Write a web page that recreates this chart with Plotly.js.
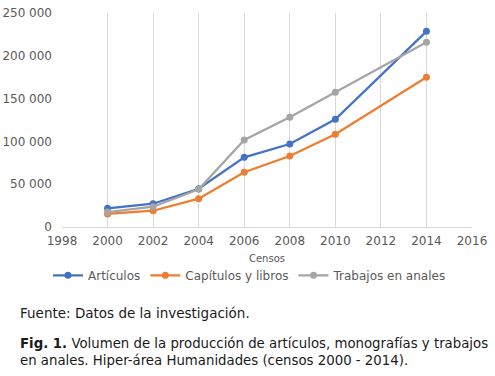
<!DOCTYPE html>
<html>
<head>
<meta charset="utf-8">
<script src="https://cdn.plot.ly/plotly-3.0.1.min.js"></script>
<style>
html,body{margin:0;padding:0;background:#fff;}
#chart{width:495px;height:376px;}
</style>
</head>
<body>
<div id="chart"></div>
<script>
const years = [2000, 2002, 2004, 2006, 2008, 2010, 2014];
const articulos = [21800, 27200, 44700, 81400, 97000, 125800, 228600];
const capitulos = [15200, 19000, 33100, 63900, 82900, 108300, 174900];
const trabajos = [17500, 23700, 44000, 101600, 128100, 157300, 215700];
const seriesNames = ['Artículos', 'Capítulos y libros', 'Trabajos en anales'];
const xTicks = [1998, 2000, 2002, 2004, 2006, 2008, 2010, 2012, 2014, 2016];
const yTicks = [0, 50000, 100000, 150000, 200000, 250000];
const yTickText = ['0', '50 000', '100 000', '150 000', '200 000', '250 000'];

const colors = ['#4472C4', '#ED7D31', '#A5A5A5'];
const font = 'DejaVu Sans, Verdana, sans-serif';

const data = [articulos, capitulos, trabajos].map((vals, i) => ({
  x: years, y: vals, name: seriesNames[i], type: 'scatter', mode: 'lines+markers',
  line: {color: colors[i], width: 2.25},
  marker: {color: colors[i], size: 7}
}));

const plotBottom = 227;
function below(px) { return -(px - plotBottom); }

const layout = {
  width: 495, height: 376,
  margin: {l: 62, r: 23, t: 13, b: 149},
  paper_bgcolor: '#fff', plot_bgcolor: '#fff',
  font: {family: font, size: 12, color: '#595959'},
  showlegend: true,
  legend: {
    orientation: 'h', x: 0.4585, xanchor: 'center', y: -0.158, yanchor: 'top',
    font: {family: font, size: 12, color: '#595959'},
    itemwidth: 30, tracegroupgap: 0, bgcolor: 'rgba(0,0,0,0)'
  },
  xaxis: {
    range: [1998, 2016], tickvals: xTicks, ticktext: xTicks.map(String),
    showgrid: true, gridcolor: '#D9D9D9', gridwidth: 1,
    showline: true, linecolor: '#D9D9D9', linewidth: 1,
    zeroline: false, ticks: '', ticklabelstandoff: 3,
    tickfont: {family: font, size: 12, color: '#595959'},
    title: {text: 'Censos', font: {family: font, size: 10, color: '#595959'}, standoff: 7}
  },
  yaxis: {
    range: [0, 250000], tickvals: yTicks, ticktext: yTickText,
    showgrid: false, zeroline: false, showline: false, ticks: '',
    ticklabelstandoff: 9,
    tickfont: {family: font, size: 12, color: '#595959'}
  },
  annotations: [
    {text: 'Fuente: Datos de la investigación.', xref: 'paper', yref: 'paper',
     x: -62/410, y: 0, xanchor: 'left', yanchor: 'middle', xshift: 18, yshift: below(313),
     showarrow: false, font: {family: font, size: 13.5, color: '#1a1a1a'}},
    {text: '<b>Fig. 1.</b> Volumen de la producción de artículos, monografías y trabajos', xref: 'paper', yref: 'paper',
     x: -62/410, y: 0, xanchor: 'left', yanchor: 'middle', xshift: 18, yshift: below(343),
     showarrow: false, font: {family: font, size: 13.3, color: '#1a1a1a'}},
    {text: 'en anales. Hiper-área Humanidades (censos 2000 - 2014).', xref: 'paper', yref: 'paper',
     x: -62/410, y: 0, xanchor: 'left', yanchor: 'middle', xshift: 18, yshift: below(360),
     showarrow: false, font: {family: font, size: 13.3, color: '#1a1a1a'}}
  ]
};

Plotly.newPlot('chart', data, layout, {displayModeBar: false, staticPlot: true});
</script>
</body>
</html>
